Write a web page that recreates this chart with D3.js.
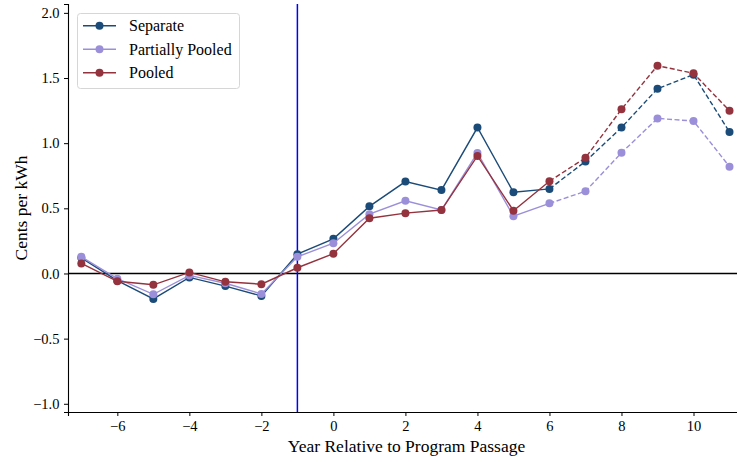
<!DOCTYPE html>
<html>
<head>
<meta charset="utf-8">
<script src="https://cdn.jsdelivr.net/npm/d3@7"></script>
<style>
  html, body { margin: 0; padding: 0; background: #fff; }
  svg { display: block; }
</style>
</head>
<body>
<svg id="chart" width="737" height="462"></svg>
<script>
// Event-study estimates, cents per kWh, by year relative to program passage
const years = [-7, -6, -5, -4, -3, -2, -1, 0, 1, 2, 3, 4, 5, 6, 7, 8, 9, 10, 11];
const separate = [0.12, -0.055, -0.195, -0.03, -0.097, -0.172, 0.148, 0.266, 0.515, 0.705, 0.64, 1.12, 0.623, 0.649, 0.86, 1.12, 1.418, 1.526, 1.085];
const partiallyPooled = [0.128, -0.04, -0.16, -0.015, -0.075, -0.157, 0.128, 0.232, 0.455, 0.558, 0.487, 0.925, 0.44, 0.538, 0.631, 0.926, 1.19, 1.17, 0.82];
const pooled = [0.077, -0.06, -0.087, 0.008, -0.064, -0.082, 0.044, 0.152, 0.424, 0.463, 0.487, 0.902, 0.482, 0.708, 0.888, 1.26, 1.595, 1.536, 1.249];
const seriesNames = ["Separate", "Partially Pooled", "Pooled"];
const seriesColors = ["#1b4b78", "#9b8fda", "#94323d"];
const xTicks = [-6, -4, -2, 0, 2, 4, 6, 8, 10];
const yTicks = [-1.0, -0.5, 0.0, 0.5, 1.0, 1.5, 2.0];
const passageYear = -1;
const lastObservedYear = 6;

const FONT = "'Liberation Serif', 'Times New Roman', Times, serif";

const svg = d3.select("#chart").attr("font-family", FONT);
// the plot area runs slightly past the right edge of the canvas
const plotLeft = 68, plotRight = 745, plotTop = 4, plotBottom = 412;

const x = d3.scaleLinear().domain([-7.37, 11.43]).range([plotLeft, plotRight]);
const y = d3.scaleLinear().domain([-1.063, 2.068]).range([plotBottom, plotTop]);

// y axis
const yAxis = svg.append("g")
  .attr("transform", `translate(${plotLeft},0)`)
  .call(d3.axisLeft(y).tickValues(yTicks).tickFormat(d => d3.format(".1f")(d).replace("-", "\u2212")).tickSizeOuter(0).tickSize(4))
  .attr("font-family", FONT).attr("font-size", 14.5);
yAxis.select(".domain").attr("stroke", "#000").attr("stroke-width", 1.1);
yAxis.selectAll(".tick line").attr("stroke", "#000").attr("stroke-width", 1);
yAxis.selectAll(".tick text").attr("x", -8.5).attr("fill", "#000");

// x axis
const xAxis = svg.append("g")
  .attr("transform", `translate(0,${plotBottom})`)
  .call(d3.axisBottom(x).tickValues(xTicks).tickFormat(d => String(d).replace("-", "\u2212")).tickSizeOuter(0).tickSize(4))
  .attr("font-family", FONT).attr("font-size", 14.5);
xAxis.select(".domain").attr("stroke", "#000").attr("stroke-width", 1.1);
xAxis.selectAll(".tick line").attr("stroke", "#000").attr("stroke-width", 1);
xAxis.selectAll(".tick text").attr("y", 8.5).attr("fill", "#000");

// axis titles
svg.append("text")
  .attr("x", (plotLeft + plotRight) / 2).attr("y", 452)
  .attr("text-anchor", "middle").attr("font-size", 17.5)
  .text("Year Relative to Program Passage");
svg.append("text")
  .attr("transform", `translate(27,${(plotTop + plotBottom) / 2}) rotate(-90)`)
  .attr("text-anchor", "middle").attr("font-size", 17.5)
  .text("Cents per kWh");

// zero reference line
svg.append("line")
  .attr("x1", plotLeft).attr("x2", plotRight)
  .attr("y1", y(0)).attr("y2", y(0))
  .attr("stroke", "#000").attr("stroke-width", 1.3);

// program passage marker
svg.append("line")
  .attr("x1", x(passageYear)).attr("x2", x(passageYear))
  .attr("y1", plotTop).attr("y2", plotBottom)
  .attr("stroke", "#0000ff").attr("stroke-width", 1.5);

const allSeries = [separate, partiallyPooled, pooled];
const line = d3.line().x(d => x(d[0])).y(d => y(d[1]));

allSeries.forEach((vals, i) => {
  const pts = years.map((yr, j) => [yr, vals[j]]);
  const solid = pts.filter(p => p[0] <= lastObservedYear);
  const dashed = pts.filter(p => p[0] >= lastObservedYear);
  const g = svg.append("g");
  g.append("path").attr("d", line(solid))
    .attr("fill", "none").attr("stroke", seriesColors[i]).attr("stroke-width", 1.4);
  g.append("path").attr("d", line(dashed))
    .attr("fill", "none").attr("stroke", seriesColors[i]).attr("stroke-width", 1.4)
    .attr("stroke-dasharray", "5,2.5");
  g.selectAll("circle").data(pts).join("circle")
    .attr("cx", d => x(d[0])).attr("cy", d => y(d[1]))
    .attr("r", 4).attr("fill", seriesColors[i]);
});

// legend
const lg = svg.append("g");
lg.append("rect")
  .attr("x", 77.5).attr("y", 13.5).attr("width", 162).attr("height", 75)
  .attr("rx", 3).attr("fill", "#fff").attr("fill-opacity", 0.85)
  .attr("stroke", "#d6d6d6").attr("stroke-width", 1);
seriesNames.forEach((name, i) => {
  const cy = 25.7 + i * 23.5;
  lg.append("line").attr("x1", 83).attr("x2", 116).attr("y1", cy).attr("y2", cy)
    .attr("stroke", seriesColors[i]).attr("stroke-width", 1.4);
  lg.append("circle").attr("cx", 99.5).attr("cy", cy).attr("r", 4).attr("fill", seriesColors[i]);
  lg.append("text").attr("x", 129).attr("y", cy + 5.5).attr("font-size", 16).text(name);
});
</script>
</body>
</html>
